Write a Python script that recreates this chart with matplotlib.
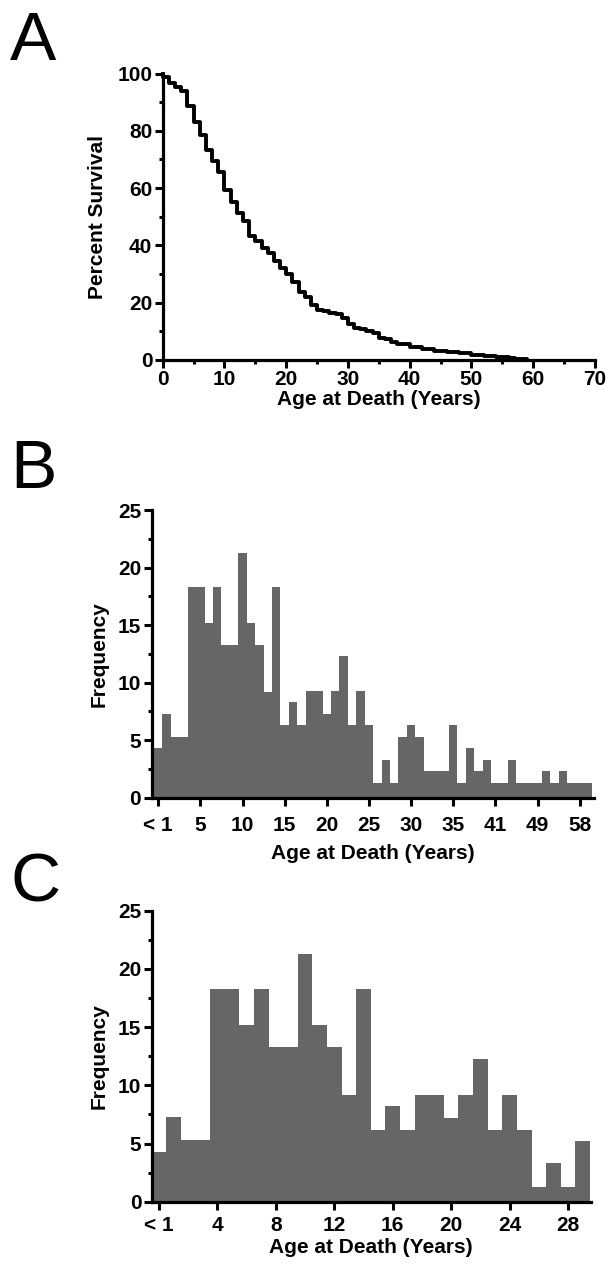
import numpy as np
import matplotlib.pyplot as plt
from matplotlib.ticker import MultipleLocator

plt.rcParams['font.family'] = ['Liberation Sans', 'DejaVu Sans']
plt.rcParams['font.weight'] = 'bold'

# Panel A: Kaplan-Meier, percent surviving after deaths at each age
km_age = [0, 1, 2, 3, 4, 5, 6, 7, 8, 9, 10, 11, 12, 13, 14, 15, 16, 17, 18, 19,
          20, 21, 22, 23, 24, 25, 26, 27, 28, 29, 30, 31, 32, 33, 34, 35, 36, 37,
          38, 40, 41, 42, 44, 46, 48, 50, 52, 54, 56, 57, 59]
km_surv = [98.8, 96.7, 95.3, 93.8, 88.5, 83.1, 78.7, 73.4, 69.5, 65.7, 59.5, 55.0,
           51.2, 48.5, 43.2, 41.4, 39.1, 37.3, 34.6, 32.0, 29.9, 27.2, 23.7, 21.9,
           19.2, 17.5, 17.2, 16.3, 16.0, 14.5, 12.7, 11.2, 10.7, 10.1, 9.5, 7.7,
           7.4, 6.2, 5.6, 4.7, 4.4, 3.8, 3.0, 2.7, 2.4, 1.8, 1.5, 0.9, 0.6, 0.3, 0.0]

# Panel B: frequency per age category (all ages)
b_freq = [4.3, 7.3, 5.3, 5.3, 18.3, 18.3, 15.2, 18.3, 13.3, 13.3, 21.3, 15.2, 13.3,
          9.2, 18.3, 6.3, 8.3, 6.3, 9.3, 9.3, 7.3, 9.3, 12.3, 6.3, 9.3, 6.3, 1.3,
          3.3, 1.3, 5.3, 6.3, 5.3, 2.3, 2.3, 2.3, 6.3, 1.3, 4.3, 2.3, 3.3, 1.3,
          1.3, 3.3, 1.3, 1.3, 1.3, 2.3, 1.3, 2.3, 1.3, 1.3, 1.3]
b_ticklabels = ['< 1', '5', '10', '15', '20', '25', '30', '35', '41', '49', '58']

# Panel C: frequency, ages < 1 to 29
c_freq = [4.3, 7.3, 5.3, 5.3, 18.3, 18.3, 15.2, 18.3, 13.3, 13.3, 21.3, 15.2, 13.3,
          9.2, 18.3, 6.2, 8.2, 6.2, 9.2, 9.2, 7.2, 9.2, 12.3, 6.2, 9.2, 6.2, 1.3,
          3.3, 1.3, 5.2]
c_ticklabels = ['< 1', '4', '8', '12', '16', '20', '24', '28']

W, H = 610, 1276
fig = plt.figure(figsize=(W / 100, H / 100), dpi=100)

def px_axes(x0, x1, y_top, y_bot):
    return fig.add_axes([x0 / W, 1 - y_bot / H, (x1 - x0) / W, (y_bot - y_top) / H])

def style(ax, xpad):
    for s in ['top', 'right']:
        ax.spines[s].set_visible(False)
    for s in ['left', 'bottom']:
        ax.spines[s].set_linewidth(2.3)
    ax.tick_params(which='major', direction='out', length=5.5, width=2.2,
                   labelsize=15)
    ax.tick_params(which='minor', direction='out', length=3, width=2.2)
    ax.tick_params(axis='x', pad=xpad)
    ax.tick_params(axis='y', pad=2)

bar_col = '#666666'
lab_fs = 15

# ---- A
axA = px_axes(162.7, 595, 73.5, 360)
xs = [0] + km_age
ys = [100] + km_surv
axA.step(xs, ys, where='post', color='black', lw=2.8, clip_on=False)
axA.set_xlim(0, 70)
axA.set_ylim(0, 100)
axA.xaxis.set_major_locator(MultipleLocator(10))
axA.xaxis.set_minor_locator(MultipleLocator(5))
axA.yaxis.set_major_locator(MultipleLocator(20))
axA.yaxis.set_minor_locator(MultipleLocator(10))
style(axA, 1.5)
axA.set_xlabel('Age at Death (Years)', fontsize=lab_fs, fontweight='bold', labelpad=1)
axA.set_ylabel('Percent Survival', fontsize=lab_fs, fontweight='bold')
axA.yaxis.set_label_coords(-0.128, 0.5)

# ---- B
axB = px_axes(151.5, 594, 510.2, 797.7)
xb = np.arange(len(b_freq))
axB.bar(xb, b_freq, width=1.0, color=bar_col, linewidth=0, clip_on=False)
axB.set_xlim(-0.8, 51.7)
axB.set_ylim(0, 25)
axB.set_xticks(xb[::5])
axB.set_xticklabels(b_ticklabels)
axB.yaxis.set_major_locator(MultipleLocator(5))
axB.yaxis.set_minor_locator(MultipleLocator(2.5))
style(axB, 8)
axB.set_xlabel('Age at Death (Years)', fontsize=lab_fs, fontweight='bold', labelpad=6)
axB.set_ylabel('Frequency', fontsize=lab_fs, fontweight='bold')
axB.yaxis.set_label_coords(-0.097, 0.5)

# ---- C
axC = px_axes(151.7, 590.7, 910.7, 1201.7)
xc = np.arange(len(c_freq))
axC.bar(xc, c_freq, width=1.0, color=bar_col, linewidth=0, clip_on=False)
axC.set_xlim(-0.5, 29.55)
axC.set_ylim(0, 25)
axC.set_xticks(xc[::4])
axC.set_xticklabels(c_ticklabels)
axC.yaxis.set_major_locator(MultipleLocator(5))
axC.yaxis.set_minor_locator(MultipleLocator(2.5))
style(axC, 5)
axC.set_xlabel('Age at Death (Years)', fontsize=lab_fs, fontweight='bold', labelpad=2)
axC.set_ylabel('Frequency', fontsize=lab_fs, fontweight='bold')
axC.yaxis.set_label_coords(-0.098, 0.5)

for lab, ytop in [('A', 10), ('B', 438), ('C', 852)]:
    fig.text(10 / W, 1 - ytop / H, lab, fontsize=50, fontweight='normal',
             va='top', ha='left')

fig.savefig('out.png', dpi=100)
